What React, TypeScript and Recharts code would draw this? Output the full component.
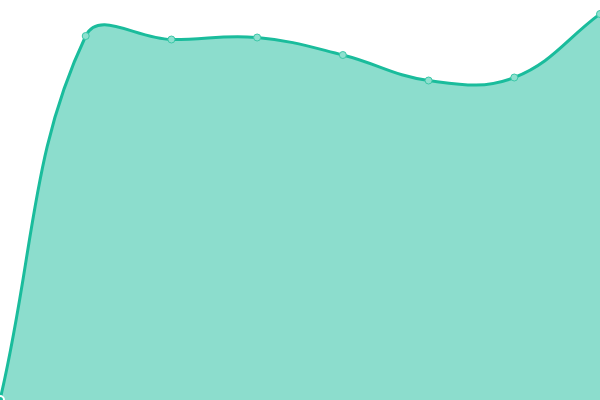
import React from 'react';
import { AreaChart, Area, XAxis, YAxis } from 'recharts';

const categories = ['P1', 'P2', 'P3', 'P4', 'P5', 'P6', 'P7', 'P8'];
const values = [0, 364, 360.5, 362.5, 345, 319.5, 322.5, 386];

const data = categories.map((c, i) => ({ name: c, value: values[i] }));

const TENSION = 0.4;

// Chart.js-style spline (tension 0.4) as a d3-compatible curve factory
function splineCurve(context: any) {
  let pts: number[][] = [];
  let line: number = NaN;
  return {
    areaStart() {
      line = 0;
    },
    areaEnd() {
      line = NaN;
    },
    lineStart() {
      pts = [];
    },
    point(x: number, y: number) {
      pts.push([+x, +y]);
    },
    lineEnd() {
      const n = pts.length;
      if (n > 0) {
        if (line) context.lineTo(pts[0][0], pts[0][1]);
        else context.moveTo(pts[0][0], pts[0][1]);
        if (n > 1) {
          const cpPrev: number[][] = [];
          const cpNext: number[][] = [];
          for (let i = 0; i < n; i++) {
            const cur = pts[i];
            const prev = pts[i - 1] || cur;
            const next = pts[i + 1] || cur;
            const d01 = Math.hypot(cur[0] - prev[0], cur[1] - prev[1]);
            const d12 = Math.hypot(next[0] - cur[0], next[1] - cur[1]);
            let s01 = d01 / (d01 + d12);
            let s12 = d12 / (d01 + d12);
            if (isNaN(s01)) s01 = 0;
            if (isNaN(s12)) s12 = 0;
            const fa = TENSION * s01;
            const fb = TENSION * s12;
            cpPrev.push([cur[0] - fa * (next[0] - prev[0]), cur[1] - fa * (next[1] - prev[1])]);
            cpNext.push([cur[0] + fb * (next[0] - prev[0]), cur[1] + fb * (next[1] - prev[1])]);
          }
          for (let i = 0; i < n - 1; i++) {
            context.bezierCurveTo(
              cpNext[i][0], cpNext[i][1],
              cpPrev[i + 1][0], cpPrev[i + 1][1],
              pts[i + 1][0], pts[i + 1][1]
            );
          }
        }
        if (line || (line !== 0 && n === 1)) context.closePath();
      }
      line = 1 - line;
    },
  };
}

export default function App() {
  return (
    <div style={{ position: 'absolute', left: 0, top: 0, width: 600, height: 400, background: '#fff' }}>
      <AreaChart width={600} height={400} data={data} margin={{ top: 0, right: 0, bottom: 0, left: 0 }}>
        <XAxis dataKey="name" hide />
        <YAxis hide domain={[0, 400]} />
        <Area
          type={splineCurve as any}
          dataKey="value"
          stroke="#1abc9c"
          strokeWidth={3}
          fill="#1abc9c"
          fillOpacity={0.5}
          dot={{ r: 3.5, fill: '#8ee0cf', stroke: '#3cc8a8', strokeWidth: 1, fillOpacity: 1 }}
          isAnimationActive={false}
        />
      </AreaChart>
    </div>
  );
}
